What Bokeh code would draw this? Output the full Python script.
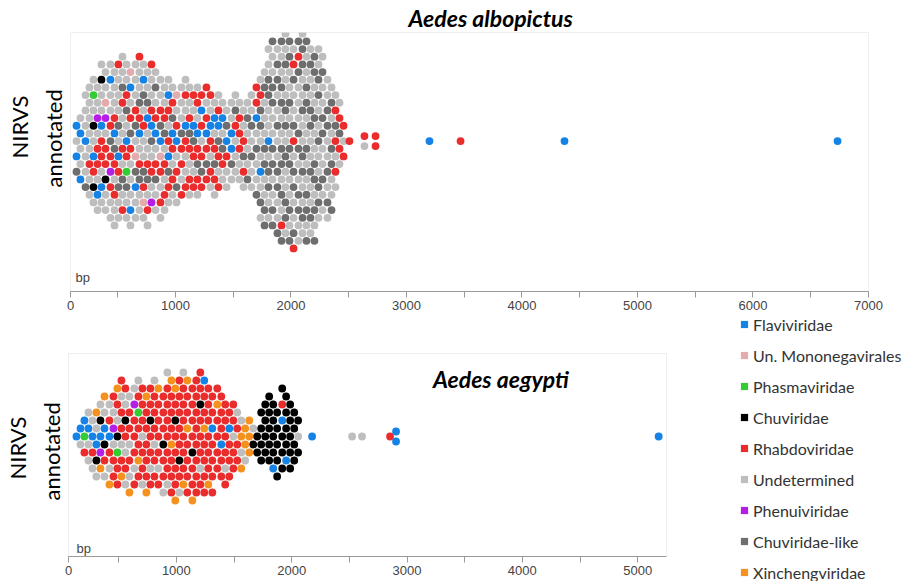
from bokeh.plotting import figure
from bokeh.models import (FixedTicker, Label, Title, Legend, LegendItem,
                          ColumnDataSource, Range1d)
from bokeh.layouts import column, row
from bokeh.transform import factor_cmap
from bokeh.embed import file_html
from bokeh.resources import INLINE

# ---------------- data ----------------
FAMILIES = ["Flaviviridae", "Un. Mononegavirales", "Phasmaviridae", "Chuviridae",
            "Rhabdoviridae", "Undetermined", "Phenuiviridae", "Chuviridae-like",
            "Xinchengviridae"]
CODES = ["F", "M", "P", "C", "R", "U", "H", "L", "X"]
COLORS = ["#1582e6", "#e3abab", "#33cc33", "#000000", "#ea2c2c",
          "#bebebe", "#b41ee6", "#6e6e6e", "#f5911e"]

# Aedes albopictus: NIRVS length (bp) of each swarm column, and the families
# of the NIRVS in that column (top to bottom, one code per element)
ALB_BP = [143, 177, 221, 255, 290, 325, 359, 394, 437, 472,
          506, 541, 576, 610, 654, 688, 723, 758, 792, 827,
          870, 905, 939, 974, 1009, 1052, 1087, 1121, 1156, 1190,
          1225, 1268, 1303, 1338, 1372, 1407, 1442, 1485, 1519, 1554,
          1589, 1623, 1658, 1701, 1736, 1771, 1805, 1840, 1883, 1918,
          1952, 1987, 2022, 2065, 2100, 2134, 2169, 2203, 2238, 2273,
          2316, 2351, 2385, 2420, 2455,
          2506, 2636, 2732, 3199, 3468, 4368, 6732]
ALB_COLS = ["FUFL", "UFUUF", "UUUFUUL", "UUUUURUU", "UPUCUFRCU",
            "UUHURRUFU", "UCUUFRRUFU", "UUMHURRCUU", "UFUURLRHRUU", "UUURFLRURUU",
            "RUUULUFRLUU", "UULRUURULUR", "UURLUFRPLUU", "MFURLRUUUFU", "UUURLUMLFUU",
            "RUULRFURLUU", "UFLURUULRMU", "UULFUURLURU", "RUURFLURUH", "ULURFURLUU",
            "UURLFMRURU", "UURLURURU", "UFRURFLRU", "URLFRURU", "MURFURLU",
            "UUULRRUR", "URUFRUUR", "UURLRURU", "RUFLRUR", "URUFRLRU",
            "RFRURLR", "RURFRLR", "RUFRURU", "UFURLRU", "URFLRUR",
            "UFULRU", "ULFRUU", "UUFFLU", "ULRUUU", "URRRUU",
            "UURLRU", "ULUUUL", "UULULUU", "RRFULUUL", "URLLUUFULU",
            "ULUUULLUULL", "UULLUUFULLUU", "LUULLUULLUULL", "ULLUULUULLUUL", "LUULLUULLULURL",
            "UULUULLULUULLU", "LLUULUULLUULUL", "URLUULRULLUULR", "LRLUUULLUULLUU", "ULLUULUULLUULU",
            "LUULLUULUULLUL", "ULUULLUULUULU", "LLUULUULLULUL", "UULLUULUULLU", "ULUULLUULUU",
            "UULLUULULU", "ULUULLUUL", "URLRURU", "URLRU", "RUR",
            "R", "RU", "RR", "F", "R", "F", "F"]

# Aedes aegypti
AEG_BP = [134, 169, 203, 238, 273, 307, 342, 377, 420, 455,
          489, 524, 558, 593, 636, 671, 706, 740, 775, 810,
          844, 887, 922, 957, 991, 1026, 1061, 1095, 1139, 1173,
          1208, 1242, 1277, 1312, 1355, 1390, 1424, 1459, 1494, 1528,
          1563, 1597, 1632, 1667, 1701, 1736, 1771, 1805, 1840, 1874,
          1918, 1952, 1987, 2022, 2056,
          2177, 2524, 2610, 2853, 2905, 5182]
AEG_COLS = ["F", "FU", "FPR", "UFUU", "UFRU", "XUFCU", "UCFHX", "XUFCRU", "URFRUX", "RUHURR",
            "XRUCPRR", "RURRURX", "RUCRURU", "URRURUX", "UHRRRUR", "URPRRXR", "RRRURRU", "XRRRRRX",
            "RRCRRUR", "URRRURR", "XRRRRUR", "RRRCRRU", "URRRRRRU", "XRRRXRRR", "XRCRRRRX",
            "RRRRRCRU", "URRRRRRX", "XRRXRRRR", "RRRRCRRX", "RRRRRRRR", "RRCRRRUR", "FRRXRRRR",
            "RRRRRRX", "RRFRRRR", "RXRRRR", "RRRFRR", "RRRRUR", "RFRRR", "RRURR", "URRR",
            "UXUX", "XXU", "XXX", "UC", "CC", "CCCC", "CCCC", "CCCCC", "CCCCF", "CCCCC",
            "CRFCCC", "CCCCF", "CCCCC", "CCCC", "CUC",
            "F", "U", "U", "R", "FF", "F"]

TOP_TICKS = [91, 1000, 2000, 3000, 4000, 5000, 6000, 7000]
TOP_MINOR = [500, 1500, 2500, 3500, 4500, 5500, 6500]
BOT_TICKS = [65, 1000, 2000, 3000, 4000, 5000]
BOT_MINOR = [500, 1500, 2500, 3500, 4500]

FAM_OF = dict(zip(CODES, FAMILIES))


def swarm(bps, cols, step):
    """Hex-packed beeswarm layout: y offsets (px) for each element."""
    xs, ys, fams = [], [], []
    for k, (bp, s) in enumerate(zip(bps, cols)):
        n = len(s)
        prev_gap = bp - bps[k - 1] if k > 0 else 1e9
        next_gap = bps[k + 1] - bp if k + 1 < len(bps) else 1e9
        if min(prev_gap, next_gap) > 45:
            offs = [(i - (n - 1) / 2) * 10.0 for i in range(n)]
        else:
            r0 = -(n - 1)
            if (r0 - k) % 2:
                r0 += 1 if (k // 2) % 2 == 0 else -1
            offs = [(r0 + 2 * i) * step for i in range(n)]
        for o, c in zip(offs, s):
            xs.append(bp)
            ys.append(-o)
            fams.append(FAM_OF[c])
    return ColumnDataSource(dict(x=xs, y=ys, fam=fams))


def style_axis(p, ticks, minor, start_tick):
    ax = p.xaxis[0]
    ax.ticker = FixedTicker(ticks=ticks, minor_ticks=minor)
    ax.major_label_overrides = {start_tick: "0"}
    ax.axis_line_color = "#9a9a9a"
    ax.major_tick_line_color = "#9a9a9a"
    ax.minor_tick_line_color = "#9a9a9a"
    ax.major_tick_in = 0
    ax.major_tick_out = 6
    ax.minor_tick_in = 0
    ax.minor_tick_out = 6
    ax.major_label_standoff = 3
    ax.major_label_text_font = "Liberation Sans"
    ax.major_label_text_font_size = "13px"
    ax.major_label_text_color = "#444444"
    p.grid.visible = False
    p.outline_line_color = "#eeeeee"


def ylabels(p, off_annot, off_nirvs):
    p.add_layout(Title(text="annotated", align="left", offset=off_annot, standoff=8,
                       text_font="Lato", text_font_size="22px",
                       text_font_style="normal", text_color="#000000"), "left")
    p.add_layout(Title(text="NIRVS", align="left", offset=off_nirvs, standoff=2,
                       text_font="Lato", text_font_size="22px",
                       text_font_style="normal", text_color="#000000"), "left")


cmap = factor_cmap("fam", palette=COLORS, factors=FAMILIES)

# ---------------- top panel ----------------
top = figure(width=903, height=314, x_range=Range1d(91, 7000), y_range=Range1d(-151, 109),
             output_backend="svg", toolbar_location=None, y_axis_location=None,
             min_border_left=70, min_border_right=35, min_border_top=31, min_border_bottom=23)
top.add_layout(Title(text="Aedes albopictus", align="left", offset=338, standoff=2,
                     text_font="Lato", text_font_style="bold italic",
                     text_font_size="23px", text_color="#000000"), "above")
style_axis(top, TOP_TICKS, TOP_MINOR, 91)
ylabels(top, 104, 133)
top.scatter("x", "y", source=swarm(ALB_BP, ALB_COLS, 7.7), size=7.8,
            fill_color=cmap, line_color=None)
top.add_layout(Label(x=134, y=-137, text="bp", text_font="Liberation Sans",
                     text_font_size="13px", text_color="#444444",
                     text_baseline="middle", text_align="left"))

# ---------------- bottom panel ----------------
bot = figure(width=680, height=267, x_range=Range1d(65, 5250), y_range=Range1d(-120, 83),
             output_backend="svg", toolbar_location=None, y_axis_location=None,
             min_border_left=67, min_border_right=14, min_border_top=39, min_border_bottom=25)
style_axis(bot, BOT_TICKS, BOT_MINOR, 65)
ylabels(bot, 56, 77)
bot.scatter("x", "y", source=swarm(AEG_BP, AEG_COLS, 8.0), size=7.8,
            fill_color=cmap, line_color=None)
bot.add_layout(Label(x=3814, y=58, text="Aedes aegypti", text_font="Lato",
                     text_font_style="bold italic", text_font_size="23px",
                     text_color="#000000", text_baseline="middle", text_align="center"))
bot.add_layout(Label(x=134, y=-112, text="bp", text_font="Liberation Sans",
                     text_font_size="13px", text_color="#444444",
                     text_baseline="middle", text_align="left"))

# ---------------- legend ----------------
leg = figure(width=223, height=267, x_range=Range1d(0, 1), y_range=Range1d(0, 1),
             output_backend="svg", toolbar_location=None,
             x_axis_location=None, y_axis_location=None,
             min_border_left=55, min_border_top=0, min_border_right=0, min_border_bottom=0)
leg.grid.visible = False
leg.outline_line_color = None
items = []
for fam, col in zip(FAMILIES, COLORS):
    # legend-only renderer (its single point lies outside the visible range)
    r = leg.scatter([-10], [-10], marker="square", size=7, fill_color=col, line_color=None)
    items.append(LegendItem(label=fam, renderers=[r]))
legend = Legend(items=items, location="top_left", margin=0, padding=0, spacing=11,
                glyph_width=18, glyph_height=20, label_height=20, label_standoff=0,
                border_line_color=None, background_fill_alpha=0,
                label_text_font="Lato", label_text_font_size="16px",
                label_text_color="#333333")
leg.add_layout(legend)

layout = column(top, row(bot, column(leg)))
open("out.html", "w").write(file_html(layout, INLINE))
